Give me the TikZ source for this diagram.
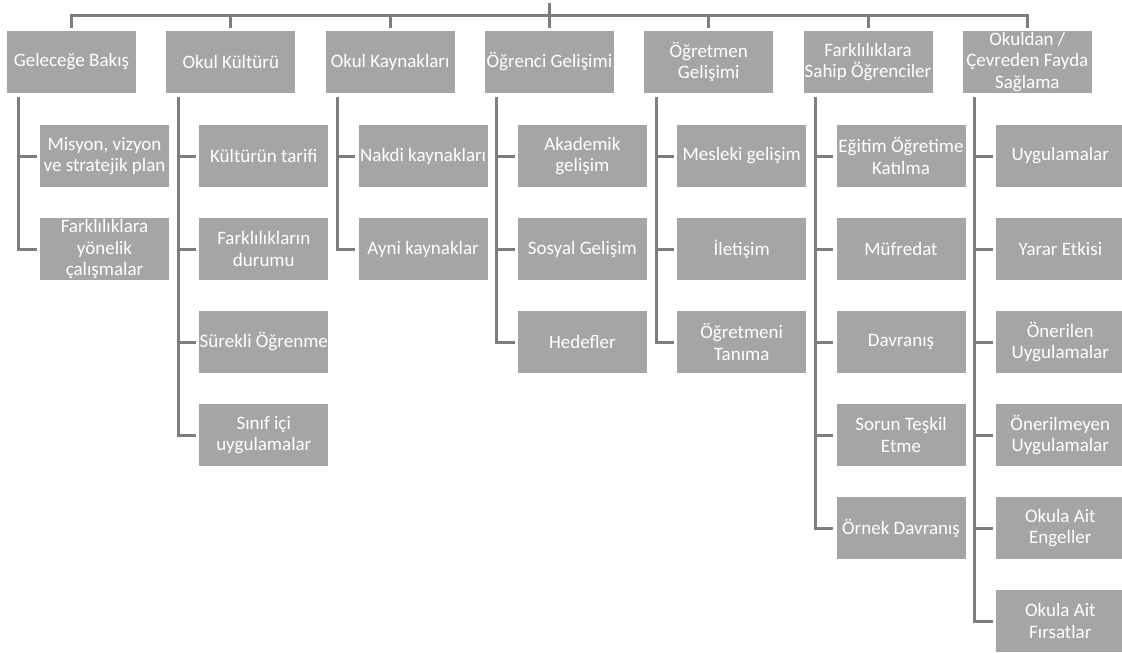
\documentclass[tikz,border=0pt]{standalone}
\usepackage{fontspec}
\setmainfont{Carlito}
\usetikzlibrary{calc}
\definecolor{boxgray}{RGB}{165,165,165}
\definecolor{linegray}{RGB}{125,125,125}
\tikzset{
  box/.style={fill=boxgray, draw=none, text=white, minimum width=129pt, minimum height=62pt,
    inner sep=0pt, align=center, font=\fontsize{19}{21.5}\selectfont},
  conn/.style={draw=linegray, line width=3pt},
}
\begin{document}
\begin{tikzpicture}[x=1pt,y=-1pt]
\useasboundingbox (0,0) rectangle (1122,653);

% top level
\node[box] (t1) at (71.5,62)   {Geleceğe Bakış};
\node[box] (t2) at (230.8,62)  {Okul Kültürü};
\node[box] (t3) at (390.1,62)  {Okul Kaynakları};
\node[box] (t4) at (549.4,62)  {Öğrenci Gelişimi};
\node[box] (t5) at (708.7,62)  {Öğretmen\\Gelişimi};
\node[box] (t6) at (868.0,62)  {Farklılıklara\\Sahip Öğrenciler};
\node[box] (t7) at (1027.3,62) {Okuldan /\\Çevreden Fayda\\Sağlama};

% second level
\node[box] (c11) at (104.5,156) {Misyon, vizyon\\ve stratejik plan};
\node[box] (c12) at (104.5,249) {Farklılıklara\\yönelik\\çalışmalar};

\node[box] (c21) at (263.8,156) {Kültürün tarifi};
\node[box] (c22) at (263.8,249) {Farklılıkların\\durumu};
\node[box] (c23) at (263.8,342) {Sürekli Öğrenme};
\node[box] (c24) at (263.8,435) {Sınıf içi\\uygulamalar};

\node[box] (c31) at (423.1,156) {Nakdi kaynakları};
\node[box] (c32) at (423.1,249) {Ayni kaynaklar};

\node[box] (c41) at (582.4,156) {Akademik\\gelişim};
\node[box] (c42) at (582.4,249) {Sosyal Gelişim};
\node[box] (c43) at (582.4,342) {Hedefler};

\node[box] (c51) at (741.7,156) {Mesleki gelişim};
\node[box] (c52) at (741.7,249) {İletişim};
\node[box] (c53) at (741.7,342) {Öğretmeni\\Tanıma};

\node[box] (c61) at (901.0,156) {Eğitim Öğretime\\Katılma};
\node[box] (c62) at (901.0,249) {Müfredat};
\node[box] (c63) at (901.0,342) {Davranış};
\node[box] (c64) at (901.0,435) {Sorun Teşkil\\Etme};
\node[box] (c65) at (901.0,528) {Örnek Davranış};

\node[box] (c71) at (1060.3,156) {Uygulamalar};
\node[box] (c72) at (1060.3,249) {Yarar Etkisi};
\node[box] (c73) at (1060.3,342) {Önerilen\\Uygulamalar};
\node[box] (c74) at (1060.3,435) {Önerilmeyen\\Uygulamalar};
\node[box] (c75) at (1060.3,528) {Okula Ait\\Engeller};
\node[box] (c76) at (1060.3,621) {Okula Ait\\Fırsatlar};

% root stub and bus to the top level
\coordinate (root) at (549.4,3);
\coordinate (bus) at (549.4,15);
\draw[conn] (root) -- (bus);
\foreach \i in {1,...,7} {
  \draw[conn] (bus) -| ($(t\i.north)+(0,-3)$);
}

% elbow connectors from each top box to its children
\foreach \p/\n in {1/2, 2/4, 3/2, 4/3, 5/3, 6/5, 7/6} {
  \foreach \k in {1,...,\n} {
    \draw[conn] ($(t\p.south west)+(12,4)$) |- ($(c\p\k.west)+(-3,0)$);
  }
}
\end{tikzpicture}
\end{document}
